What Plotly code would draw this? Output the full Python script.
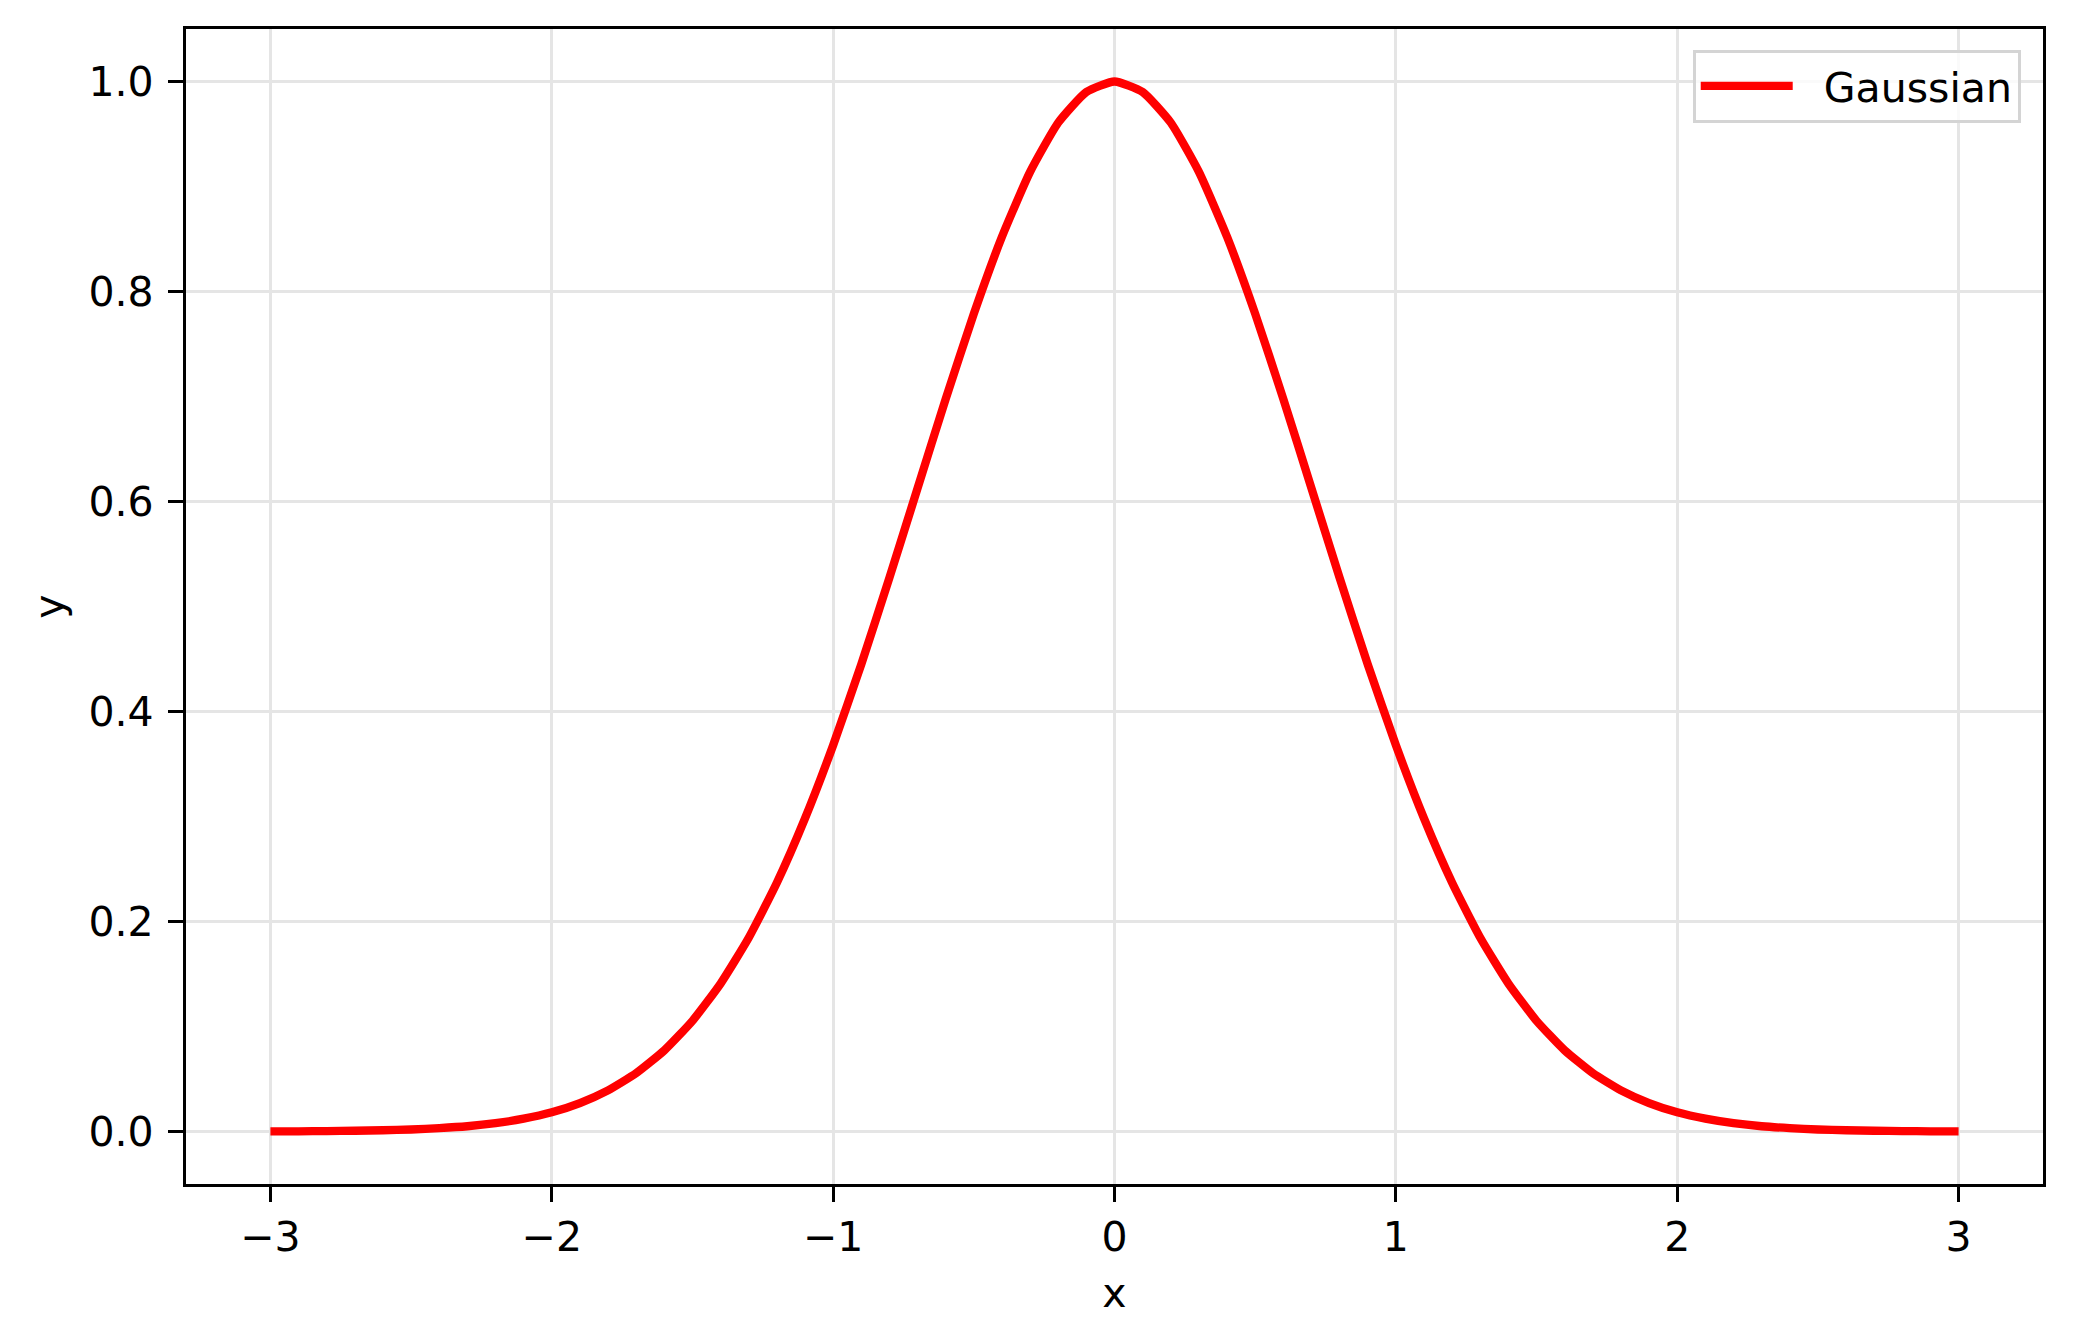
import plotly.graph_objects as go

# Values (x from -3 to 3, step 0.1)
x_vals = [-3.0, -2.9, -2.8, -2.7, -2.6, -2.5, -2.4, -2.3, -2.2, -2.1,
          -2.0, -1.9, -1.8, -1.7, -1.6, -1.5, -1.4, -1.3, -1.2, -1.1,
          -1.0, -0.9, -0.8, -0.7, -0.6, -0.5, -0.4, -0.3, -0.2, -0.1,
          0.0, 0.1, 0.2, 0.3, 0.4, 0.5, 0.6, 0.7, 0.8, 0.9,
          1.0, 1.1, 1.2, 1.3, 1.4, 1.5, 1.6, 1.7, 1.8, 1.9,
          2.0, 2.1, 2.2, 2.3, 2.4, 2.5, 2.6, 2.7, 2.8, 2.9, 3.0]
y_vals = [0.0001, 0.0002, 0.0004, 0.0007, 0.0012, 0.0019, 0.0032, 0.0050, 0.0079, 0.0122,
          0.0183, 0.0271, 0.0392, 0.0556, 0.0773, 0.1054, 0.1409, 0.1845, 0.2369, 0.2982,
          0.3679, 0.4449, 0.5273, 0.6126, 0.6977, 0.7788, 0.8521, 0.9139, 0.9608, 0.9900,
          1.0000, 0.9900, 0.9608, 0.9139, 0.8521, 0.7788, 0.6977, 0.6126, 0.5273, 0.4449,
          0.3679, 0.2982, 0.2369, 0.1845, 0.1409, 0.1054, 0.0773, 0.0556, 0.0392, 0.0271,
          0.0183, 0.0122, 0.0079, 0.0050, 0.0032, 0.0019, 0.0012, 0.0007, 0.0004, 0.0002, 0.0001]
series_name = "Gaussian"
x_ticks = [-3, -2, -1, 0, 1, 2, 3]
y_ticks = [0.0, 0.2, 0.4, 0.6, 0.8, 1.0]
y_tick_labels = ["0.0", "0.2", "0.4", "0.6", "0.8", "1.0"]

FONT = "DejaVu Sans"
FS = 41

fig = go.Figure()
fig.add_trace(go.Scatter(
    x=x_vals, y=y_vals, mode="lines", name="\u00a0\u00a0" + series_name,
    line=dict(color="#ff0000", width=8.3, shape="spline", smoothing=0.5),
))

axis_common = dict(
    showgrid=True, gridcolor="#e5e5e5", gridwidth=3.3,
    zeroline=False, showline=True, linecolor="black", linewidth=3.3,
    mirror=True, ticks="outside", ticklen=15, tickwidth=3.3, tickcolor="black",
    tickfont=dict(family=FONT, size=FS, color="black"),
)

fig.update_layout(
    width=2074, height=1344,
    margin=dict(l=178, r=39, t=21, b=168),
    paper_bgcolor="white", plot_bgcolor="white",
    font=dict(family=FONT, size=FS, color="black"),
    showlegend=True,
    legend=dict(
        x=0.988, y=0.982, xanchor="right", yanchor="top",
        bgcolor="rgba(255,255,255,0.8)", bordercolor="#d4d4d4", borderwidth=3,
        font=dict(family=FONT, size=FS, color="black"),
        itemwidth=92,
    ),
    xaxis=dict(
        range=[-3.3, 3.3], tickvals=x_ticks,
        title=dict(text="x", font=dict(family=FONT, size=FS), standoff=18),
        ticklabelstandoff=0,
        **axis_common,
    ),
    yaxis=dict(
        range=[-0.05, 1.05], tickvals=y_ticks, ticktext=y_tick_labels,
        title=dict(text="y", font=dict(family=FONT, size=FS), standoff=13),
        ticklabelstandoff=6,
        **axis_common,
    ),
)

fig.write_html("out.html")
